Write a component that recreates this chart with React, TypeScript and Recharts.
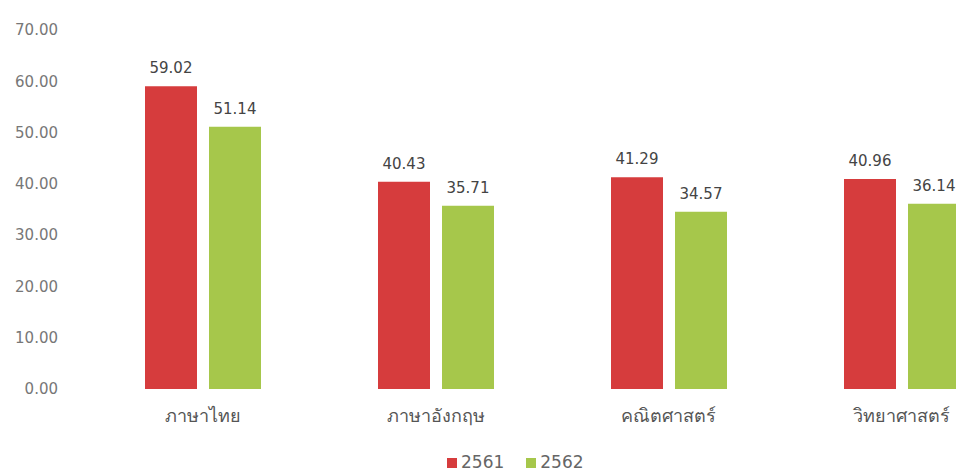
import React from 'react';
import { BarChart, Bar, XAxis, YAxis, Legend, LabelList } from 'recharts';

const subjects = ['ภาษาไทย', 'ภาษาอังกฤษ', 'คณิตศาสตร์', 'วิทยาศาสตร์'];
const scores2561 = [59.02, 40.43, 41.29, 40.96];
const scores2562 = [51.14, 35.71, 34.57, 36.14];
const yTicks = [0, 10, 20, 30, 40, 50, 60, 70];

const data = subjects.map((name, i) => ({
  name,
  y2561: scores2561[i],
  y2562: scores2562[i],
}));

const FONT = '"DejaVu Sans", "Noto Sans", sans-serif';
const fmt = (v: number) => Number(v).toFixed(2);

const App: React.FC = () => {
  return (
    <div
      style={{
        position: 'absolute',
        left: 0,
        top: 0,
        width: 956,
        height: 472,
        overflow: 'hidden',
        background: '#fff',
        fontFamily: FONT,
      }}
    >
      <BarChart
        width={1030}
        height={472}
        data={data}
        margin={{ top: 30, right: 12, left: 0, bottom: 0 }}
        barSize={52}
        barGap={12}
      >
        <XAxis
          dataKey="name"
          axisLine={false}
          tickLine={false}
          tickSize={0}
          tickMargin={20}
          height={63}
          tick={{ fill: '#555', fontSize: 18, fontFamily: FONT }}
        />
        <YAxis
          width={86}
          domain={[0, 70]}
          ticks={yTicks}
          tickFormatter={fmt}
          axisLine={false}
          tickLine={false}
          tickSize={0}
          tickMargin={28}
          tick={{ fill: '#777', fontSize: 15, fontFamily: FONT }}
        />
        <Legend
          iconType="square"
          iconSize={10}
          wrapperStyle={{ fontSize: 17, fontFamily: FONT, left: 447, width: 'auto' }}
          formatter={(value: string) => <span style={{ color: '#666', paddingRight: 12 }}>{value}</span>}
        />
        <Bar dataKey="y2561" name="2561" fill="#d63c3d" isAnimationActive={false}>
          <LabelList dataKey="y2561" position="top" offset={13} formatter={fmt} fill="#444" fontSize={15} fontFamily={FONT} />
        </Bar>
        <Bar dataKey="y2562" name="2562" fill="#a6c74b" isAnimationActive={false}>
          <LabelList dataKey="y2562" position="top" offset={13} formatter={fmt} fill="#444" fontSize={15} fontFamily={FONT} />
        </Bar>
      </BarChart>
    </div>
  );
};

export default App;
